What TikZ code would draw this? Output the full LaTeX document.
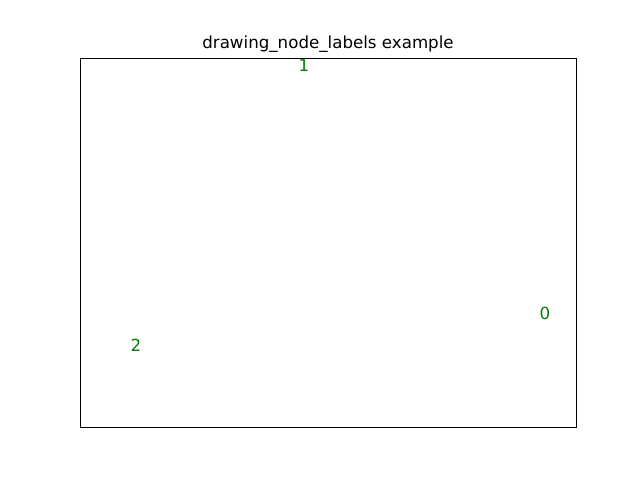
\documentclass[tikz,border=0pt]{standalone}
\usepackage{fontspec}
\setmainfont{DejaVu Sans}
\usetikzlibrary{positioning}
\definecolor{nxGreen}{RGB}{0,128,0}
\tikzset{
  nodelabel/.style={text=nxGreen, font=\fontsize{12.5}{15}\selectfont, inner sep=0pt},
  axframe/.style={draw=black, line width=0.6pt}
}

\begin{document}
\begin{tikzpicture}[x=0.75pt,y=0.75pt]
  \useasboundingbox (0,0) rectangle (640,480);
  \draw[axframe] (80,53) rectangle (576,422);
  \node[font=\fontsize{12.5}{15}\selectfont] (title) at (328,436) {drawing\_node\_labels example};
  \node[nodelabel] (lbl0) at (545,167) {0};
  \node[nodelabel] (lbl1) at (304,415) {1};
  \node[nodelabel] (lbl2) at (136,135) {2};
\end{tikzpicture}
\end{document}
